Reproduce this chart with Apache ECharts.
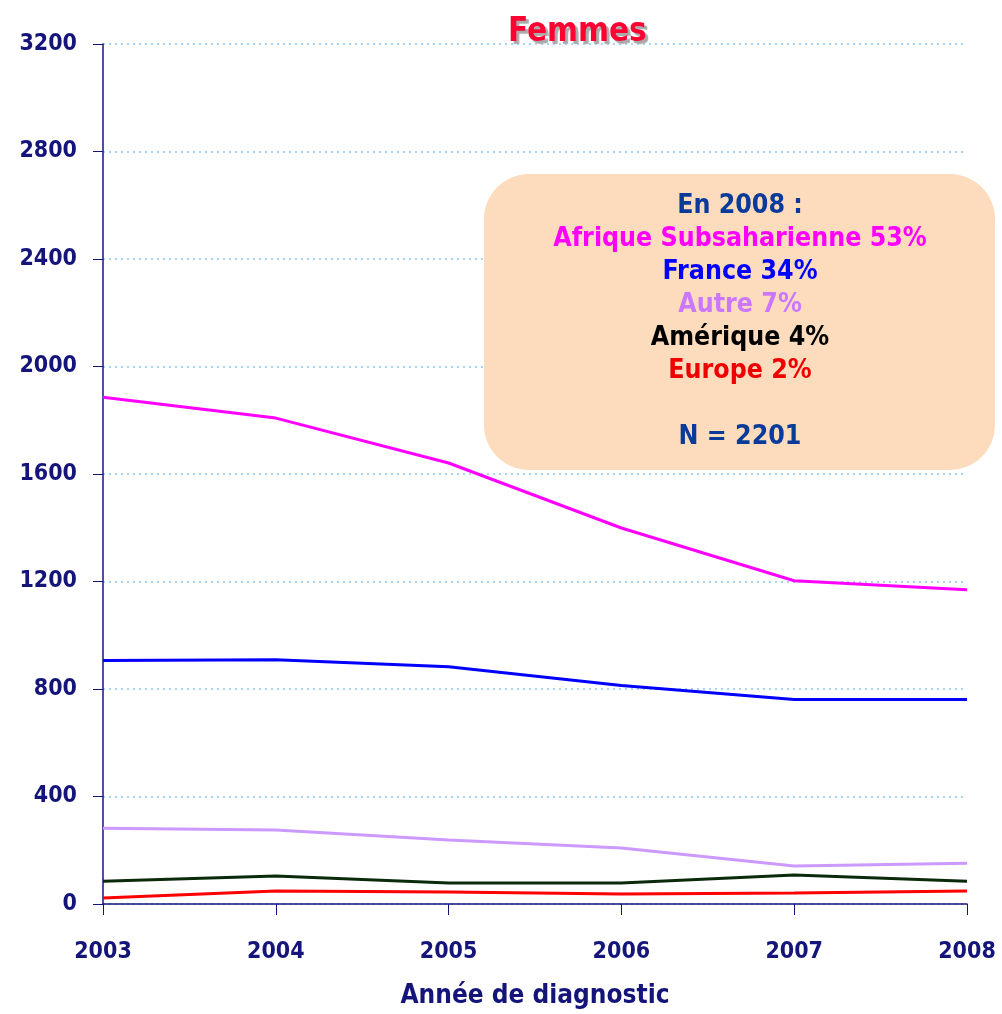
<!DOCTYPE html>
<html><head><meta charset="utf-8">
<script src="https://cdn.jsdelivr.net/npm/echarts@6/dist/echarts.min.js"></script>
<style>html,body{margin:0;padding:0;background:#fff;overflow:hidden}#c{width:1002px;height:1014px}</style>
</head><body><div id="c"></div>
<script>
const years = ['2003','2004','2005','2006','2007','2008'];
const afrique = [1886, 1808, 1641, 1399, 1203, 1169];
const france = [906, 909, 883, 813, 761, 761];
const autre = [282, 275, 238, 208, 141, 152];
const amerique = [85, 104, 78, 78, 108, 85];
const europe = [22, 48, 45, 37, 41, 48];
const yTicks = [0, 400, 800, 1200, 1600, 2000, 2400, 2800, 3200];
const boxLines = [
  ['En 2008 :', '#0a3a9a'],
  ['Afrique Subsaharienne 53%', '#ff00ff'],
  ['France 34%', '#0000ff'],
  ['Autre 7%', '#cc77ff'],
  ['Amérique 4%', '#000000'],
  ['Europe 2%', '#ee0000'],
  ['', '#000'],
  ['N = 2201', '#0a3a9a']
];
const FONT = '"DejaVu Sans Condensed",Arial,sans-serif';
const navy = '#14147a';
const chart = echarts.init(document.getElementById('c'));
function ser(name, data, color){
  return {name, type:'line', data, symbol:'none', lineStyle:{color, width:3}, itemStyle:{color}, z:3};
}
chart.setOption({
  animation:false,
  title:{text:'Femmes', left:503, top:11, textStyle:{color:'#ff0033', fontSize:33, fontWeight:'bold', fontFamily:FONT, textShadowColor:'#aaaaaa', textShadowOffsetX:3, textShadowOffsetY:3, textShadowBlur:1}},
  grid:{left:103, right:35, top:44, bottom:108, containLabel:false},
  xAxis:{type:'category', data:years, boundaryGap:false, name:'Année de diagnostic', nameLocation:'middle', nameGap:79,
    nameTextStyle:{color:navy, fontSize:26, fontWeight:'bold', fontFamily:FONT},
    axisLine:{lineStyle:{color:navy, width:1.5}}, axisTick:{show:true, length:11, inside:false, lineStyle:{color:navy}},
    axisLabel:{color:navy, fontSize:23, fontWeight:'bold', fontFamily:FONT, margin:37}},
  yAxis:{type:'value', min:yTicks[0], max:yTicks[yTicks.length-1], interval:yTicks[1]-yTicks[0],
    axisLine:{show:true, lineStyle:{color:navy, width:1.5}}, axisTick:{show:true, length:10, lineStyle:{color:navy}},
    axisLabel:{color:navy, fontSize:23, fontWeight:'bold', fontFamily:FONT, margin:26, formatter:v=>String(v)},
    splitLine:{show:true, lineStyle:{color:'#88c8f8', type:[2,4], width:1.5}}},
  graphic:[
    {type:'rect', shape:{x:484, y:174, width:511, height:296, r:45}, style:{fill:'#fddcbd'}, z:1},
    ...boxLines.map((l,i)=>({type:'text', z:2, style:{text:l[0], fill:l[1], font:'bold 26.5px '+FONT, textAlign:'center', textVerticalAlign:'middle', x:740, y:206+i*33}}))
  ],
  series:[
    ser('Afrique Subsaharienne', afrique, '#ff00ff'),
    ser('France', france, '#0000ff'),
    ser('Autre', autre, '#cc99ff'),
    ser('Amérique', amerique, '#0a2a0a'),
    ser('Europe', europe, '#ff0000')
  ]
});
</script></body></html>
